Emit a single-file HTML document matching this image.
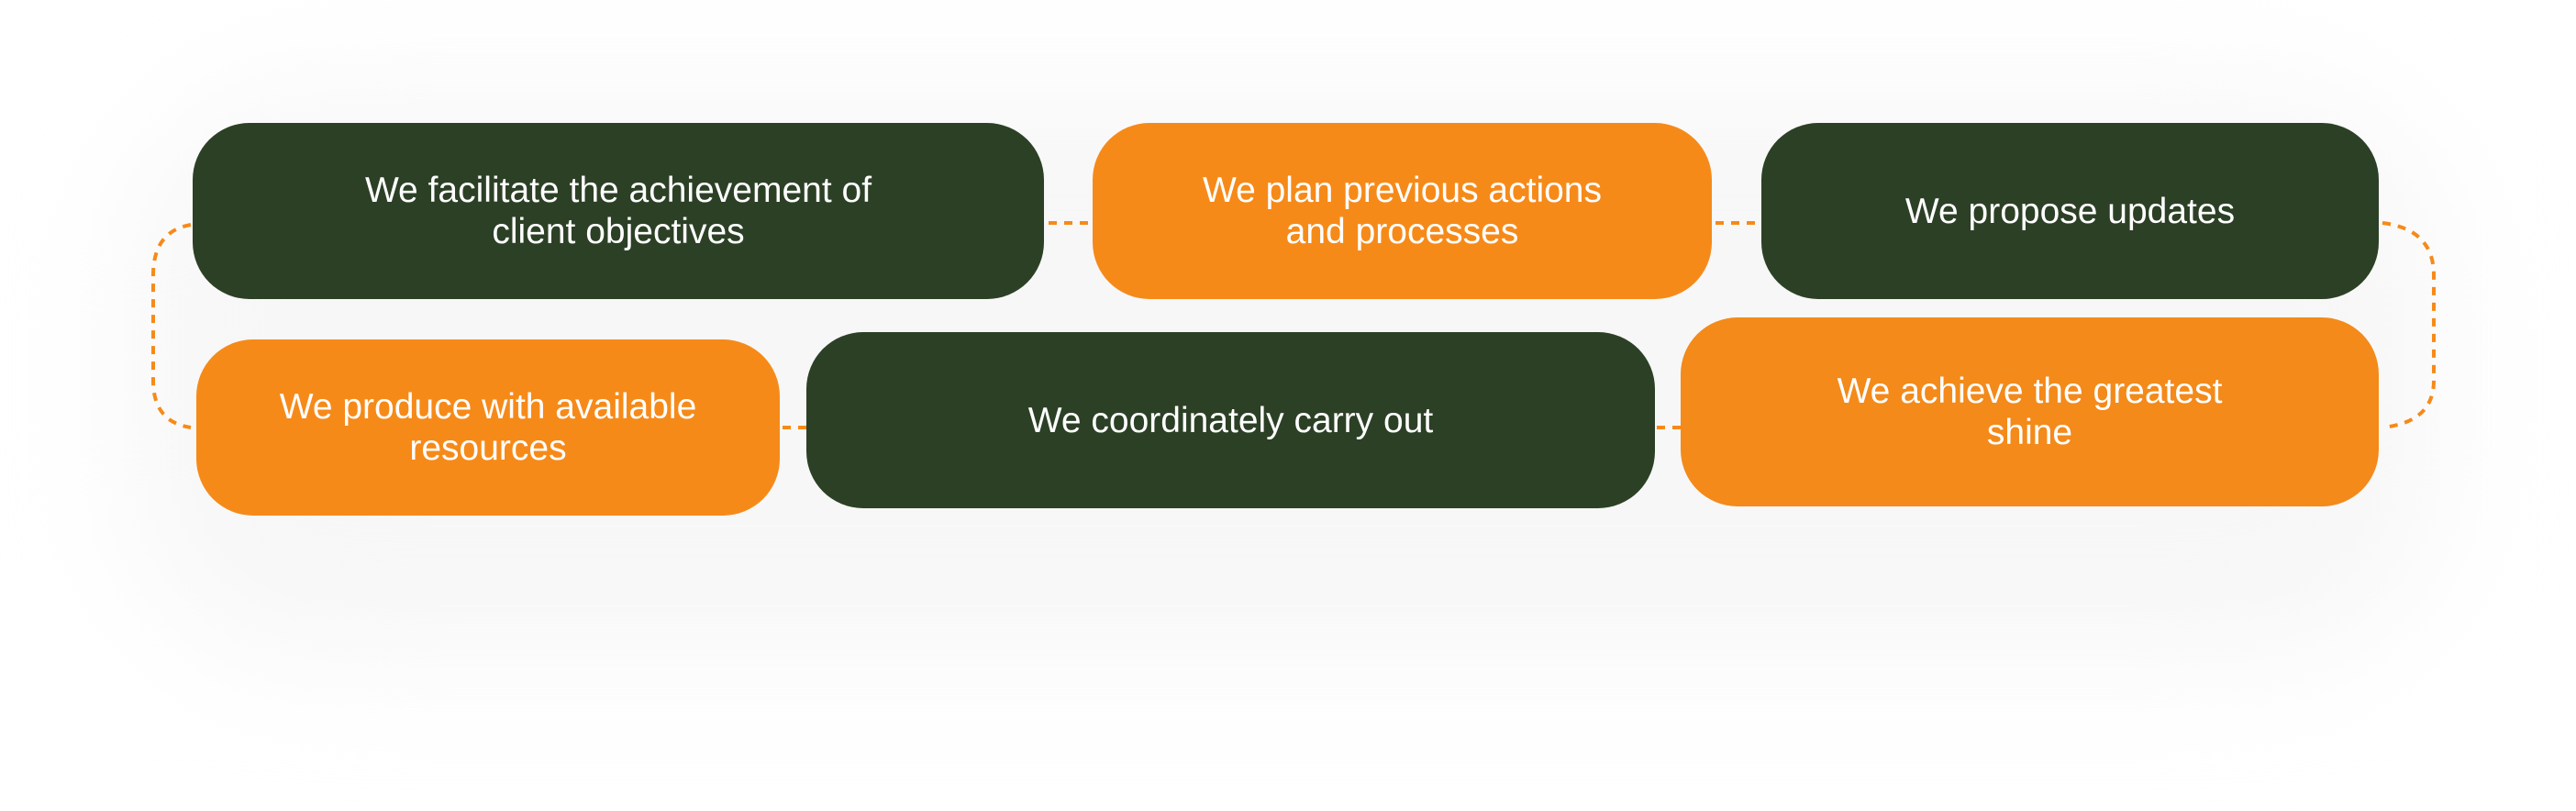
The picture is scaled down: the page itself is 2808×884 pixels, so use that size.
<!DOCTYPE html>
<html><head><meta charset="utf-8"><style>
html,body{margin:0;padding:0;background:#fff;}
body{width:2808px;height:884px;position:relative;overflow:hidden;font-family:"Liberation Sans",sans-serif;}
.shadow{position:absolute;left:140px;top:100px;width:2520px;height:620px;border-radius:200px;background:#f7f7f7;filter:blur(70px);}
.b{position:absolute;border-radius:62px;display:flex;align-items:center;justify-content:center;text-align:center;color:#fff;font-size:39px;line-height:45px;}
.g{background:#2c4026;}
.o{background:#f68a19;}
svg{position:absolute;left:0;top:0;}
</style></head><body>
<div class="shadow"></div>
<svg width="2808" height="884">
<g fill="none" stroke="#f68a19" stroke-width="4" stroke-dasharray="9 8">
<line x1="1143" y1="243" x2="1190" y2="243"/>
<line x1="1870" y1="243" x2="1920" y2="243"/>
<line x1="853" y1="466" x2="879" y2="466"/>
<line x1="1806" y1="466" x2="1832" y2="466"/>
<path d="M208 245 Q167 252 167 300 L167 415 Q167 460 208 466"/>
<path d="M2597 243 Q2653 250 2653 300 L2653 415 Q2653 460 2597 466"/>
</g>
</svg>
<div class="b g" style="left:210px;top:134px;width:928px;height:192px;">We facilitate the achievement of<br>client objectives</div>
<div class="b o" style="left:1191px;top:134px;width:675px;height:192px;">We plan previous actions<br>and processes</div>
<div class="b g" style="left:1920px;top:134px;width:673px;height:192px;">We propose updates</div>
<div class="b o" style="left:214px;top:370px;width:636px;height:192px;">We produce with available<br>resources</div>
<div class="b g" style="left:879px;top:362px;width:925px;height:192px;">We coordinately carry out</div>
<div class="b o" style="left:1832px;top:346px;width:761px;height:206px;background:#f38a1a;">We achieve the greatest<br>shine</div>
</body></html>
